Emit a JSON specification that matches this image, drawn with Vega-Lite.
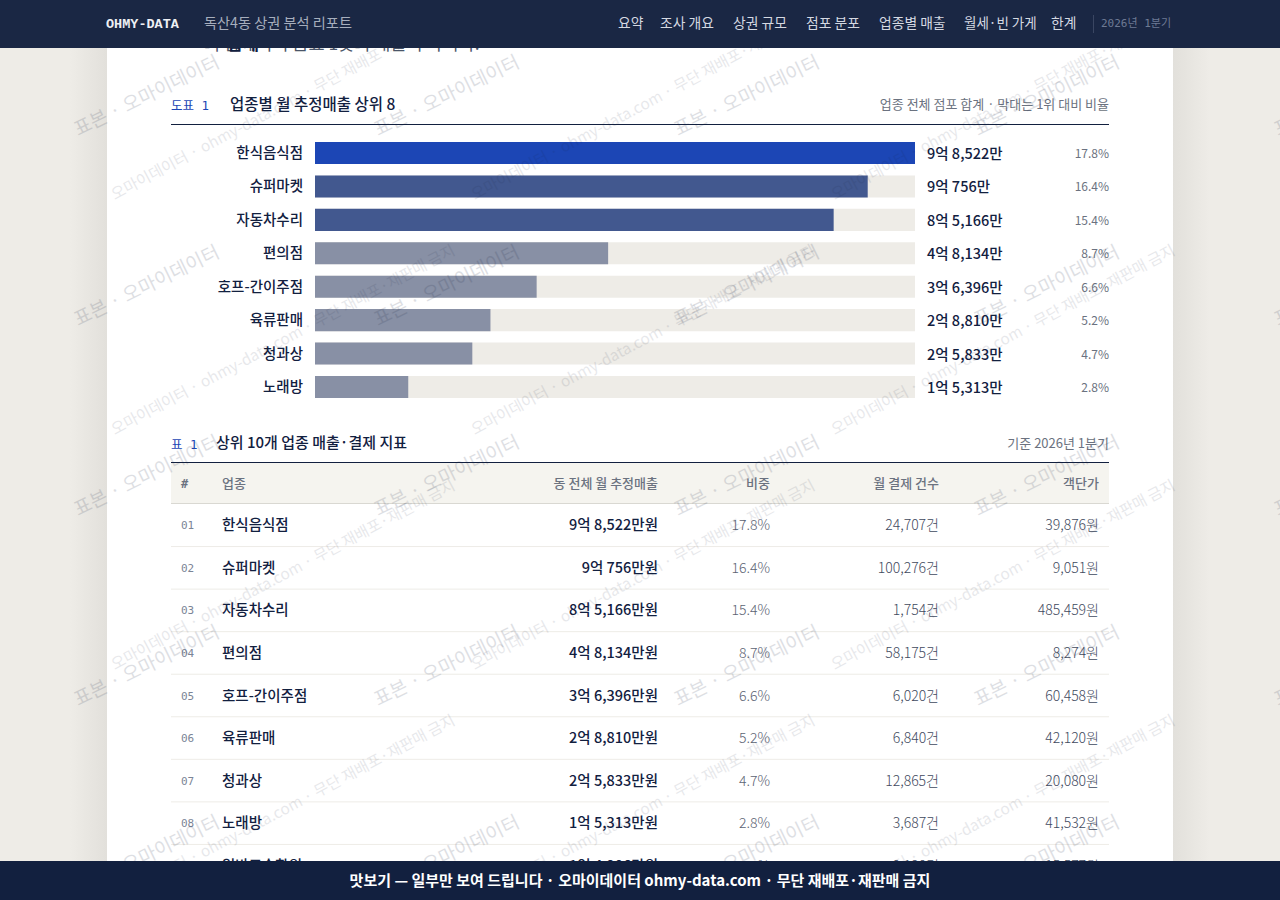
{
  "$schema": "https://vega.github.io/schema/vega-lite/v6.json",
  "autosize": "none",
  "width": 1280,
  "height": 900,
  "padding": 0,
  "background": "#eeece7",
  "data": {"values": [{"page": "report"}]},
  "datasets": {
    "sales": [
      {"업종": "한식음식점", "매출": 98522, "표시": "9억 8,522만", "비중": 0.178, "구분": "1위"},
      {"업종": "슈퍼마켓", "매출": 90756, "표시": "9억 756만", "비중": 0.164, "구분": "상위"},
      {"업종": "자동차수리", "매출": 85166, "표시": "8억 5,166만", "비중": 0.154, "구분": "상위"},
      {"업종": "편의점", "매출": 48134, "표시": "4억 8,134만", "비중": 0.087, "구분": "그 외"},
      {"업종": "호프-간이주점", "매출": 36396, "표시": "3억 6,396만", "비중": 0.066, "구분": "그 외"},
      {"업종": "육류판매", "매출": 28810, "표시": "2억 8,810만", "비중": 0.052, "구분": "그 외"},
      {"업종": "청과상", "매출": 25833, "표시": "2억 5,833만", "비중": 0.047, "구분": "그 외"},
      {"업종": "노래방", "매출": 15313, "표시": "1억 5,313만", "비중": 0.028, "구분": "그 외"}
    ],
    "table": [
      {"순번": "01", "업종": "한식음식점", "매출": "9억 8,522만원", "비중": "17.8%", "건수": "24,707건", "객단가": "39,876원"},
      {"순번": "02", "업종": "슈퍼마켓", "매출": "9억 756만원", "비중": "16.4%", "건수": "100,276건", "객단가": "9,051원"},
      {"순번": "03", "업종": "자동차수리", "매출": "8억 5,166만원", "비중": "15.4%", "건수": "1,754건", "객단가": "485,459원"},
      {"순번": "04", "업종": "편의점", "매출": "4억 8,134만원", "비중": "8.7%", "건수": "58,175건", "객단가": "8,274원"},
      {"순번": "05", "업종": "호프-간이주점", "매출": "3억 6,396만원", "비중": "6.6%", "건수": "6,020건", "객단가": "60,458원"},
      {"순번": "06", "업종": "육류판매", "매출": "2억 8,810만원", "비중": "5.2%", "건수": "6,840건", "객단가": "42,120원"},
      {"순번": "07", "업종": "청과상", "매출": "2억 5,833만원", "비중": "4.7%", "건수": "12,865건", "객단가": "20,080원"},
      {"순번": "08", "업종": "노래방", "매출": "1억 5,313만원", "비중": "2.8%", "건수": "3,687건", "객단가": "41,532원"},
      {"순번": "09", "업종": "일반교습학원", "매출": "1억 4,206만원", "비중": "2.6%", "건수": "9,120건", "객단가": "15,577원"}
    ],
    "tileA": [
      {"c": 1, "r": 0}, {"c": 2, "r": 0}, {"c": 3, "r": 0}, {"c": 4, "r": 0}, {"c": 5, "r": 0},
      {"c": 1, "r": 1}, {"c": 2, "r": 1}, {"c": 3, "r": 1}, {"c": 4, "r": 1}, {"c": 5, "r": 1},
      {"c": 1, "r": 2}, {"c": 2, "r": 2}, {"c": 3, "r": 2}, {"c": 4, "r": 2}, {"c": 5, "r": 2},
      {"c": 1, "r": 3}, {"c": 2, "r": 3}, {"c": 3, "r": 3}, {"c": 4, "r": 3}, {"c": 5, "r": 3},
      {"c": 1, "r": 4}, {"c": 2, "r": 4}, {"c": 3, "r": 4}, {"c": 4, "r": 4}, {"c": 5, "r": 4}
    ],
    "tileB": [
      {"c": 0, "r": 0}, {"c": 1, "r": 0}, {"c": 2, "r": 0},
      {"c": 0, "r": 1}, {"c": 1, "r": 1}, {"c": 2, "r": 1},
      {"c": 0, "r": 2}, {"c": 1, "r": 2}, {"c": 2, "r": 2},
      {"c": 0, "r": 3}, {"c": 1, "r": 3}, {"c": 2, "r": 3}
    ]
  },
  "resolve": {"scale": {"x": "independent", "y": "independent", "color": "independent"}},
  "layer": [
    {
      "mark": {"type": "rect", "color": {"gradient": "linear", "x1": 0, "y1": 0, "x2": 1, "y2": 0, "stops": [
        {"offset": 0, "color": "#eeece7"}, {"offset": 0.0325, "color": "#e2e0db"},
        {"offset": 0.9675, "color": "#e2e0db"}, {"offset": 1, "color": "#eeece7"}]}},
      "encoding": {
        "x": {"datum": 0, "type": "quantitative", "scale": {"domain": [0, 1], "range": [70, 1210]}},
        "x2": {"datum": 1},
        "y": {"datum": 0, "type": "quantitative", "scale": {"domain": [0, 1], "range": [0, 900]}},
        "y2": {"datum": 1}
      }
    },
    {
      "mark": {"type": "rect", "color": "#ffffff"},
      "encoding": {
        "x": {"datum": 0, "type": "quantitative", "scale": {"domain": [0, 1], "range": [107, 1173]}},
        "x2": {"datum": 1},
        "y": {"datum": 0, "type": "quantitative", "scale": {"domain": [0, 1], "range": [0, 900]}},
        "y2": {"datum": 1}
      }
    },
    {
      "mark": {"type": "text", "fontSize": 17.5, "color": "#4a5568", "align": "left"},
      "encoding": {
        "text": {"datum": "의 합계이며 음료 1곳의 매출이 아니다."},
        "x": {"datum": "문단", "scale": {"type": "point", "domain": ["문단"], "range": [204, 204]}},
        "y": {"datum": "문단", "scale": {"type": "point", "domain": ["문단"], "range": [44, 44]}}
      }
    },
    {
      "mark": {"type": "text", "fontSize": 17.5, "fontWeight": 700, "color": "#12203f", "align": "left"},
      "encoding": {
        "text": {"datum": "합계"},
        "x": {"datum": "문단", "scale": {"type": "point", "domain": ["문단"], "range": [227, 227]}},
        "y": {"datum": "문단", "scale": {"type": "point", "domain": ["문단"], "range": [44, 44]}}
      }
    },
    {
      "mark": {"type": "text", "fontSize": 12.5, "color": "#1c46b5", "align": "left", "font": "DejaVu Sans Mono, Noto Sans CJK KR"},
      "encoding": {
        "text": {"datum": "도표 1"},
        "x": {"datum": "캡션", "scale": {"type": "point", "domain": ["캡션"], "range": [171, 171]}},
        "y": {"datum": "캡션", "scale": {"type": "point", "domain": ["캡션"], "range": [105, 105]}}
      }
    },
    {
      "mark": {"type": "text", "fontSize": 15.5, "fontWeight": 500, "color": "#12203f", "align": "left"},
      "encoding": {
        "text": {"datum": "업종별 월 추정매출 상위 8"},
        "x": {"datum": "캡션", "scale": {"type": "point", "domain": ["캡션"], "range": [230, 230]}},
        "y": {"datum": "캡션", "scale": {"type": "point", "domain": ["캡션"], "range": [104, 104]}}
      }
    },
    {
      "mark": {"type": "text", "fontSize": 13, "color": "#6b7280", "align": "right"},
      "encoding": {
        "text": {"datum": "업종 전체 점포 합계 · 막대는 1위 대비 비율"},
        "x": {"datum": "캡션", "scale": {"type": "point", "domain": ["캡션"], "range": [1109, 1109]}},
        "y": {"datum": "캡션", "scale": {"type": "point", "domain": ["캡션"], "range": [104, 104]}}
      }
    },
    {
      "mark": {"type": "rule", "color": "#12203f", "strokeWidth": 1},
      "encoding": {
        "x": {"datum": 0, "type": "quantitative", "scale": {"domain": [0, 1], "range": [171, 1109]}},
        "x2": {"datum": 1},
        "y": {"datum": "선", "scale": {"type": "point", "domain": ["선"], "range": [124.5, 124.5]}}
      }
    },
    {
      "data": {"name": "sales"},
      "mark": {"type": "bar", "color": "#eeece7"},
      "encoding": {
        "x": {"datum": 98522, "type": "quantitative", "scale": {"domain": [0, 98522], "range": [315, 915]}},
        "y": {"field": "업종", "type": "nominal", "sort": null, "scale": {"type": "band", "range": [142, 398], "paddingInner": 0.34, "paddingOuter": 0}}
      }
    },
    {
      "data": {"name": "sales"},
      "mark": {"type": "bar"},
      "encoding": {
        "x": {"field": "매출", "type": "quantitative", "scale": {"domain": [0, 98522], "range": [315, 915]}},
        "y": {"field": "업종", "type": "nominal", "sort": null, "scale": {"type": "band", "range": [142, 398], "paddingInner": 0.34, "paddingOuter": 0}},
        "color": {"field": "구분", "type": "nominal", "legend": null, "scale": {"domain": ["1위", "상위", "그 외"], "range": ["#1c46b5", "#42588f", "#8890a5"]}}
      }
    },
    {
      "data": {"name": "sales"},
      "mark": {"type": "text", "fontSize": 14.5, "fontWeight": 500, "color": "#12203f", "align": "right", "dx": -12},
      "encoding": {
        "text": {"field": "업종"},
        "x": {"datum": 0, "type": "quantitative", "scale": {"domain": [0, 98522], "range": [315, 915]}},
        "y": {"field": "업종", "type": "nominal", "sort": null, "scale": {"type": "band", "range": [142, 398], "paddingInner": 0.34, "paddingOuter": 0}}
      }
    },
    {
      "data": {"name": "sales"},
      "mark": {"type": "text", "fontSize": 14.5, "fontWeight": 500, "color": "#12203f", "align": "left", "dx": 12, "dy": 2},
      "encoding": {
        "text": {"field": "표시"},
        "x": {"datum": 98522, "type": "quantitative", "scale": {"domain": [0, 98522], "range": [315, 915]}},
        "y": {"field": "업종", "type": "nominal", "sort": null, "scale": {"type": "band", "range": [142, 398], "paddingInner": 0.34, "paddingOuter": 0}}
      }
    },
    {
      "data": {"name": "sales"},
      "mark": {"type": "text", "fontSize": 12, "color": "#6b7280", "align": "right", "dx": 194, "dy": 1},
      "encoding": {
        "text": {"field": "비중", "format": ".1%"},
        "x": {"datum": 98522, "type": "quantitative", "scale": {"domain": [0, 98522], "range": [315, 915]}},
        "y": {"field": "업종", "type": "nominal", "sort": null, "scale": {"type": "band", "range": [142, 398], "paddingInner": 0.34, "paddingOuter": 0}}
      }
    },
    {
      "mark": {"type": "text", "fontSize": 12.5, "color": "#1c46b5", "align": "left", "font": "DejaVu Sans Mono, Noto Sans CJK KR"},
      "encoding": {
        "text": {"datum": "표 1"},
        "x": {"datum": "표제", "scale": {"type": "point", "domain": ["표제"], "range": [171, 171]}},
        "y": {"datum": "표제", "scale": {"type": "point", "domain": ["표제"], "range": [444, 444]}}
      }
    },
    {
      "mark": {"type": "text", "fontSize": 15, "fontWeight": 500, "color": "#12203f", "align": "left"},
      "encoding": {
        "text": {"datum": "상위 10개 업종 매출·결제 지표"},
        "x": {"datum": "표제", "scale": {"type": "point", "domain": ["표제"], "range": [216, 216]}},
        "y": {"datum": "표제", "scale": {"type": "point", "domain": ["표제"], "range": [442, 442]}}
      }
    },
    {
      "mark": {"type": "text", "fontSize": 13, "color": "#6b7280", "align": "right"},
      "encoding": {
        "text": {"datum": "기준 2026년 1분기"},
        "x": {"datum": "표제", "scale": {"type": "point", "domain": ["표제"], "range": [1109, 1109]}},
        "y": {"datum": "표제", "scale": {"type": "point", "domain": ["표제"], "range": [443, 443]}}
      }
    },
    {
      "mark": {"type": "rect", "color": "#f5f4ef"},
      "encoding": {
        "x": {"datum": 0, "type": "quantitative", "scale": {"domain": [0, 1], "range": [171, 1109]}},
        "x2": {"datum": 1},
        "y": {"datum": 0, "type": "quantitative", "scale": {"domain": [0, 1], "range": [463, 503]}},
        "y2": {"datum": 1}
      }
    },
    {
      "mark": {"type": "rule", "color": "#12203f", "strokeWidth": 1},
      "encoding": {
        "x": {"datum": 0, "type": "quantitative", "scale": {"domain": [0, 1], "range": [171, 1109]}},
        "x2": {"datum": 1},
        "y": {"datum": "선", "scale": {"type": "point", "domain": ["선"], "range": [462.5, 462.5]}}
      }
    },
    {
      "mark": {"type": "rule", "color": "#d9d8d2", "strokeWidth": 1},
      "encoding": {
        "x": {"datum": 0, "type": "quantitative", "scale": {"domain": [0, 1], "range": [171, 1109]}},
        "x2": {"datum": 1},
        "y": {"datum": "선", "scale": {"type": "point", "domain": ["선"], "range": [503.5, 503.5]}}
      }
    },
    {
      "data": {"name": "table"},
      "mark": {"type": "rule", "color": "#eeece7", "strokeWidth": 1},
      "encoding": {
        "x": {"datum": 0, "type": "quantitative", "scale": {"domain": [0, 1], "range": [171, 1109]}},
        "x2": {"datum": 1},
        "y": {"field": "순번", "type": "nominal", "bandPosition": 1, "scale": {"type": "band", "range": [504, 887], "padding": 0}}
      }
    },
    {
      "mark": {"type": "text", "fontSize": 12, "color": "#6b7280", "align": "left", "font": "DejaVu Sans Mono, Noto Sans CJK KR", "fontWeight": 600},
      "encoding": {
        "text": {"datum": "#"},
        "x": {"datum": "#", "scale": {"type": "point", "domain": ["#"], "range": [181, 181]}},
        "y": {"datum": "머리", "scale": {"type": "point", "domain": ["머리"], "range": [483, 483]}}
      }
    },
    {
      "mark": {"type": "text", "fontSize": 13, "color": "#6b7280", "align": "left", "fontWeight": 500},
      "encoding": {
        "text": {"datum": "업종"},
        "x": {"datum": "업종", "scale": {"type": "point", "domain": ["업종"], "range": [222, 222]}},
        "y": {"datum": "머리", "scale": {"type": "point", "domain": ["머리"], "range": [483, 483]}}
      }
    },
    {
      "mark": {"type": "text", "fontSize": 13, "color": "#6b7280", "align": "right", "fontWeight": 500},
      "encoding": {
        "text": {"datum": "동 전체 월 추정매출"},
        "x": {"datum": "매출", "scale": {"type": "point", "domain": ["매출"], "range": [658, 658]}},
        "y": {"datum": "머리", "scale": {"type": "point", "domain": ["머리"], "range": [483, 483]}}
      }
    },
    {
      "mark": {"type": "text", "fontSize": 13, "color": "#6b7280", "align": "right", "fontWeight": 500},
      "encoding": {
        "text": {"datum": "비중"},
        "x": {"datum": "비중", "scale": {"type": "point", "domain": ["비중"], "range": [770, 770]}},
        "y": {"datum": "머리", "scale": {"type": "point", "domain": ["머리"], "range": [483, 483]}}
      }
    },
    {
      "mark": {"type": "text", "fontSize": 13, "color": "#6b7280", "align": "right", "fontWeight": 500},
      "encoding": {
        "text": {"datum": "월 결제 건수"},
        "x": {"datum": "건수", "scale": {"type": "point", "domain": ["건수"], "range": [939, 939]}},
        "y": {"datum": "머리", "scale": {"type": "point", "domain": ["머리"], "range": [483, 483]}}
      }
    },
    {
      "mark": {"type": "text", "fontSize": 13, "color": "#6b7280", "align": "right", "fontWeight": 500},
      "encoding": {
        "text": {"datum": "객단가"},
        "x": {"datum": "객단가", "scale": {"type": "point", "domain": ["객단가"], "range": [1099, 1099]}},
        "y": {"datum": "머리", "scale": {"type": "point", "domain": ["머리"], "range": [483, 483]}}
      }
    },
    {
      "data": {"name": "table"},
      "mark": {"type": "text", "fontSize": 11, "color": "#7b8496", "align": "left", "font": "DejaVu Sans Mono, Noto Sans CJK KR"},
      "encoding": {
        "text": {"field": "순번"},
        "x": {"datum": "#", "scale": {"type": "point", "domain": ["#"], "range": [181, 181]}},
        "y": {"field": "순번", "type": "nominal", "bandPosition": 0.5, "scale": {"type": "band", "range": [504, 887], "padding": 0}}
      }
    },
    {
      "data": {"name": "table"},
      "mark": {"type": "text", "fontSize": 14.5, "fontWeight": 500, "color": "#12203f", "align": "left"},
      "encoding": {
        "text": {"field": "업종"},
        "x": {"datum": "업종", "scale": {"type": "point", "domain": ["업종"], "range": [222, 222]}},
        "y": {"field": "순번", "type": "nominal", "bandPosition": 0.5, "scale": {"type": "band", "range": [504, 887], "padding": 0}}
      }
    },
    {
      "data": {"name": "table"},
      "mark": {"type": "text", "fontSize": 14.5, "fontWeight": 500, "color": "#12203f", "align": "right"},
      "encoding": {
        "text": {"field": "매출"},
        "x": {"datum": "매출", "scale": {"type": "point", "domain": ["매출"], "range": [658, 658]}},
        "y": {"field": "순번", "type": "nominal", "bandPosition": 0.5, "scale": {"type": "band", "range": [504, 887], "padding": 0}}
      }
    },
    {
      "data": {"name": "table"},
      "mark": {"type": "text", "fontSize": 14, "fontWeight": 300, "color": "#5b6373", "align": "right"},
      "encoding": {
        "text": {"field": "비중"},
        "x": {"datum": "비중", "scale": {"type": "point", "domain": ["비중"], "range": [770, 770]}},
        "y": {"field": "순번", "type": "nominal", "bandPosition": 0.5, "scale": {"type": "band", "range": [504, 887], "padding": 0}}
      }
    },
    {
      "data": {"name": "table"},
      "mark": {"type": "text", "fontSize": 14, "fontWeight": 300, "color": "#3f4a5e", "align": "right"},
      "encoding": {
        "text": {"field": "건수"},
        "x": {"datum": "건수", "scale": {"type": "point", "domain": ["건수"], "range": [939, 939]}},
        "y": {"field": "순번", "type": "nominal", "bandPosition": 0.5, "scale": {"type": "band", "range": [504, 887], "padding": 0}}
      }
    },
    {
      "data": {"name": "table"},
      "mark": {"type": "text", "fontSize": 14, "fontWeight": 300, "color": "#3f4a5e", "align": "right"},
      "encoding": {
        "text": {"field": "객단가"},
        "x": {"datum": "객단가", "scale": {"type": "point", "domain": ["객단가"], "range": [1099, 1099]}},
        "y": {"field": "순번", "type": "nominal", "bandPosition": 0.5, "scale": {"type": "band", "range": [504, 887], "padding": 0}}
      }
    },
    {
      "data": {"name": "tileA"},
      "mark": {"type": "text", "text": "표본 · 오마이데이터", "fontSize": 19, "angle": -26, "align": "left", "color": "#1a2744", "opacity": 0.14, "clip": true},
      "encoding": {
        "x": {"field": "c", "type": "quantitative", "scale": {"domain": [1, 5], "range": [75, 1275]}},
        "y": {"field": "r", "type": "quantitative", "scale": {"domain": [0, 4], "range": [130, 890]}}
      }
    },
    {
      "data": {"name": "tileB"},
      "mark": {"type": "text", "text": "오마이데이터 · ohmy-data.com · 무단 재배포·재판매 금지", "fontSize": 15.4, "angle": -28, "align": "left", "color": "#1a2744", "opacity": 0.1, "clip": true},
      "encoding": {
        "x": {"field": "c", "type": "quantitative", "scale": {"domain": [0, 2], "range": [112, 832]}},
        "y": {"field": "r", "type": "quantitative", "scale": {"domain": [0, 3], "range": [195, 900]}}
      }
    },
    {
      "mark": {"type": "rect", "color": "#1a2744"},
      "encoding": {
        "x": {"datum": 0, "type": "quantitative", "scale": {"domain": [0, 1], "range": [0, 1280]}},
        "x2": {"datum": 1},
        "y": {"datum": 0, "type": "quantitative", "scale": {"domain": [0, 1], "range": [0, 48]}},
        "y2": {"datum": 1}
      }
    },
    {
      "mark": {"type": "text", "fontSize": 13.5, "fontWeight": "bold", "color": "#eef0f4", "align": "left", "font": "Liberation Mono"},
      "encoding": {
        "text": {"datum": "OHMY-DATA"},
        "x": {"datum": "머리글", "scale": {"type": "point", "domain": ["머리글"], "range": [106, 106]}},
        "y": {"datum": "머리글", "scale": {"type": "point", "domain": ["머리글"], "range": [23, 23]}}
      }
    },
    {
      "mark": {"type": "text", "fontSize": 14.2, "color": "#a6aebd", "align": "left"},
      "encoding": {
        "text": {"datum": "독산4동 상권 분석 리포트"},
        "x": {"datum": "머리글", "scale": {"type": "point", "domain": ["머리글"], "range": [204, 204]}},
        "y": {"datum": "머리글", "scale": {"type": "point", "domain": ["머리글"], "range": [23, 23]}}
      }
    },
    {
      "mark": {"type": "text", "fontSize": 13.8, "color": "#d5d9e2", "align": "left"},
      "encoding": {
        "text": {"datum": "요약"},
        "x": {"datum": "메뉴", "scale": {"type": "point", "domain": ["메뉴"], "range": [618, 618]}},
        "y": {"datum": "메뉴", "scale": {"type": "point", "domain": ["메뉴"], "range": [23, 23]}}
      }
    },
    {
      "mark": {"type": "text", "fontSize": 13.8, "color": "#d5d9e2", "align": "left"},
      "encoding": {
        "text": {"datum": "조사 개요"},
        "x": {"datum": "메뉴", "scale": {"type": "point", "domain": ["메뉴"], "range": [660, 660]}},
        "y": {"datum": "메뉴", "scale": {"type": "point", "domain": ["메뉴"], "range": [23, 23]}}
      }
    },
    {
      "mark": {"type": "text", "fontSize": 13.8, "color": "#d5d9e2", "align": "left"},
      "encoding": {
        "text": {"datum": "상권 규모"},
        "x": {"datum": "메뉴", "scale": {"type": "point", "domain": ["메뉴"], "range": [733, 733]}},
        "y": {"datum": "메뉴", "scale": {"type": "point", "domain": ["메뉴"], "range": [23, 23]}}
      }
    },
    {
      "mark": {"type": "text", "fontSize": 13.8, "color": "#d5d9e2", "align": "left"},
      "encoding": {
        "text": {"datum": "점포 분포"},
        "x": {"datum": "메뉴", "scale": {"type": "point", "domain": ["메뉴"], "range": [806, 806]}},
        "y": {"datum": "메뉴", "scale": {"type": "point", "domain": ["메뉴"], "range": [23, 23]}}
      }
    },
    {
      "mark": {"type": "text", "fontSize": 13.8, "color": "#d5d9e2", "align": "left"},
      "encoding": {
        "text": {"datum": "업종별 매출"},
        "x": {"datum": "메뉴", "scale": {"type": "point", "domain": ["메뉴"], "range": [879, 879]}},
        "y": {"datum": "메뉴", "scale": {"type": "point", "domain": ["메뉴"], "range": [23, 23]}}
      }
    },
    {
      "mark": {"type": "text", "fontSize": 13.5, "color": "#d5d9e2", "align": "left"},
      "encoding": {
        "text": {"datum": "월세·빈 가게"},
        "x": {"datum": "메뉴", "scale": {"type": "point", "domain": ["메뉴"], "range": [964, 964]}},
        "y": {"datum": "메뉴", "scale": {"type": "point", "domain": ["메뉴"], "range": [23, 23]}}
      }
    },
    {
      "mark": {"type": "text", "fontSize": 13.8, "color": "#d5d9e2", "align": "left"},
      "encoding": {
        "text": {"datum": "한계"},
        "x": {"datum": "메뉴", "scale": {"type": "point", "domain": ["메뉴"], "range": [1051, 1051]}},
        "y": {"datum": "메뉴", "scale": {"type": "point", "domain": ["메뉴"], "range": [23, 23]}}
      }
    },
    {
      "mark": {"type": "rule", "color": "#3a4662", "strokeWidth": 1},
      "encoding": {
        "x": {"datum": "메뉴", "scale": {"type": "point", "domain": ["메뉴"], "range": [1093.5, 1093.5]}},
        "y": {"datum": 0, "type": "quantitative", "scale": {"domain": [0, 1], "range": [15, 33]}},
        "y2": {"datum": 1}
      }
    },
    {
      "mark": {"type": "text", "fontSize": 11, "color": "#6e7a94", "align": "left", "font": "DejaVu Sans Mono, Noto Sans CJK KR"},
      "encoding": {
        "text": {"datum": "2026년 1분기"},
        "x": {"datum": "메뉴", "scale": {"type": "point", "domain": ["메뉴"], "range": [1101, 1101]}},
        "y": {"datum": "메뉴", "scale": {"type": "point", "domain": ["메뉴"], "range": [23, 23]}}
      }
    },
    {
      "mark": {"type": "rect", "color": "#12203f"},
      "encoding": {
        "x": {"datum": 0, "type": "quantitative", "scale": {"domain": [0, 1], "range": [0, 1280]}},
        "x2": {"datum": 1},
        "y": {"datum": 0, "type": "quantitative", "scale": {"domain": [0, 1], "range": [861, 900]}},
        "y2": {"datum": 1}
      }
    },
    {
      "mark": {"type": "text", "fontSize": 15, "fontWeight": 700, "color": "#ffffff", "align": "center"},
      "encoding": {
        "text": {"datum": "맛보기 — 일부만 보여 드립니다 · 오마이데이터 ohmy-data.com · 무단 재배포·재판매 금지"},
        "x": {"datum": "바닥글", "scale": {"type": "point", "domain": ["바닥글"], "range": [640, 640]}},
        "y": {"datum": "바닥글", "scale": {"type": "point", "domain": ["바닥글"], "range": [880, 880]}}
      }
    }
  ],
  "config": {
    "view": {"stroke": null},
    "axis": {"disable": true},
    "text": {"font": "Noto Sans CJK KR", "baseline": "middle", "dy": 1}
  }
}
